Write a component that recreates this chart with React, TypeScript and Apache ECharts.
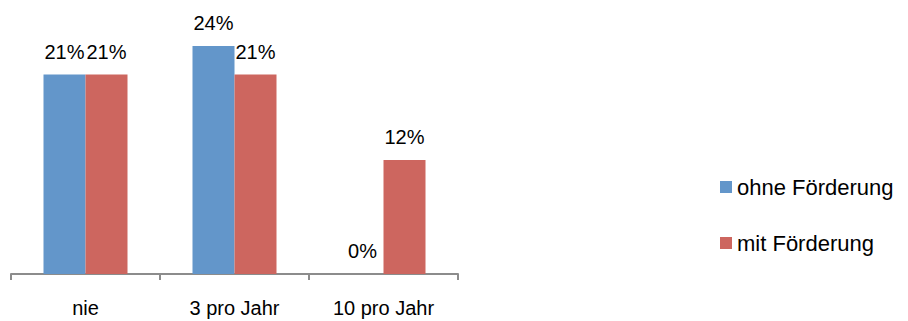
import React, { useEffect, useRef } from "react";
import * as echarts from "echarts";

const categories = ["nie", "3 pro Jahr", "10 pro Jahr"];
const seriesNames = ["ohne Förderung", "mit Förderung"];
const ohneFoerderung = [21, 24, 0];
const mitFoerderung = [21, 21, 12];
const colors = ["#6396CA", "#CD665F"];

const FONT = "'Liberation Sans', Arial, sans-serif";

export default function App() {
  const ref = useRef<HTMLDivElement>(null);

  useEffect(() => {
    document.body.style.margin = "0";
    const chart = echarts.init(ref.current!, undefined, { renderer: "svg" });
    const label = {
      show: true,
      position: "top" as const,
      distance: 13,
      formatter: "{c}%",
      color: "#000",
      fontSize: 20,
      fontFamily: FONT,
    };
    chart.setOption({
      animation: false,
      textStyle: { fontFamily: FONT },
      grid: { left: 11, top: 8, width: 447, height: 266, containLabel: false },
      legend: {
        orient: "vertical",
        left: 720,
        top: 176,
        padding: 0,
        itemWidth: 12,
        itemHeight: 12,
        itemGap: 34,
        icon: "rect",
        data: seriesNames,
        textStyle: { fontSize: 22, color: "#000", fontFamily: FONT, lineHeight: 22 },
      },
      xAxis: {
        type: "category",
        data: categories,
        axisLine: { lineStyle: { color: "#8C8C8C", width: 2 } },
        axisTick: { show: true, length: 6, lineStyle: { color: "#8C8C8C", width: 2 } },
        axisLabel: { margin: 24, color: "#000", fontSize: 20, fontFamily: FONT },
      },
      yAxis: {
        type: "value",
        min: 0,
        max: 28,
        show: false,
        splitLine: { show: false },
      },
      series: [
        {
          name: seriesNames[0],
          type: "bar",
          data: ohneFoerderung,
          barWidth: 42,
          barGap: "0%",
          itemStyle: { color: colors[0] },
          label,
        },
        {
          name: seriesNames[1],
          type: "bar",
          data: mitFoerderung,
          barWidth: 42,
          barGap: "0%",
          itemStyle: { color: colors[1] },
          label,
        },
      ],
    });
    return () => chart.dispose();
  }, []);

  return <div ref={ref} style={{ width: 908, height: 321 }} />;
}
